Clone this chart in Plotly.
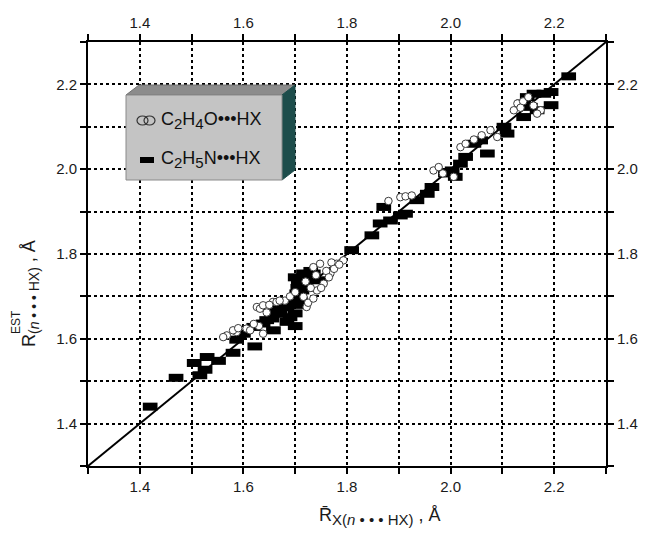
import plotly.graph_objects as go

# ---- data ----
c2h5n_x = [1.42, 1.47, 1.505, 1.53, 1.552, 1.516, 1.526, 1.58, 1.622, 1.587, 1.60, 1.62, 1.638, 1.645,
           1.658, 1.655, 1.664, 1.671, 1.664, 1.684, 1.684, 1.69, 1.697, 1.703, 1.706, 1.713, 1.722,
           1.716, 1.735, 1.748, 1.71, 1.705, 1.70, 1.72, 1.70, 1.70, 1.71, 1.72, 1.73,
           1.809, 1.848, 1.864, 1.871, 1.884, 1.903, 1.913, 1.935, 1.955, 1.964,
           1.99, 2.003, 2.009, 2.019, 2.029, 2.045, 2.058, 2.071, 2.103, 2.109,
           2.141, 2.148, 2.161, 2.18, 2.194, 2.194, 2.167, 2.141, 2.154, 2.228]
c2h5n_y = [1.44, 1.508, 1.543, 1.557, 1.548, 1.514, 1.527, 1.567, 1.582, 1.598, 1.612, 1.628, 1.636, 1.644,
           1.62, 1.648, 1.659, 1.66, 1.675, 1.675, 1.64, 1.651, 1.691, 1.707, 1.73, 1.714, 1.738,
           1.754, 1.754, 1.738, 1.69, 1.72, 1.745, 1.72, 1.63, 1.66, 1.68, 1.74, 1.76,
           1.809, 1.844, 1.872, 1.911, 1.879, 1.891, 1.895, 1.927, 1.942, 1.958,
           1.99, 1.997, 1.982, 2.013, 2.029, 2.06, 2.068, 2.037, 2.10, 2.084,
           2.155, 2.17, 2.178, 2.178, 2.182, 2.151, 2.139, 2.123, 2.147, 2.219]

c2h4o_x = [1.568, 1.587, 1.561, 1.58, 1.606, 1.613, 1.63, 1.638, 1.626, 1.632, 1.638, 1.657, 1.664, 1.68,
           1.722, 1.716, 1.742, 1.755, 1.735, 1.748, 1.768, 1.78, 1.793, 1.76, 1.74, 1.73, 1.77,
           1.65, 1.67, 1.69, 1.70, 1.725, 1.735, 1.75, 1.765, 1.775, 1.785, 1.72, 1.59, 1.62, 1.645,
           1.88, 1.903, 1.913, 1.925, 1.967, 1.977, 1.985, 2.006, 2.019, 2.029, 2.045, 2.077, 2.09, 2.06,
           2.122, 2.129, 2.174, 2.167, 2.14, 2.15, 2.135, 2.16]
c2h4o_y = [1.608, 1.616, 1.604, 1.62, 1.624, 1.62, 1.63, 1.612, 1.675, 1.671, 1.679, 1.687, 1.687, 1.69,
           1.675, 1.699, 1.714, 1.73, 1.769, 1.777, 1.754, 1.777, 1.785, 1.76, 1.75, 1.72, 1.78,
           1.68, 1.69, 1.70, 1.71, 1.685, 1.695, 1.72, 1.745, 1.765, 1.775, 1.735, 1.625, 1.635, 1.662,
           1.925, 1.934, 1.936, 1.938, 1.997, 2.005, 1.99, 1.982, 2.052, 2.06, 2.07, 2.092, 2.076, 2.08,
           2.139, 2.155, 2.139, 2.131, 2.16, 2.17, 2.145, 2.15]

diag = [1.3, 2.3]
axis_range = [1.3, 2.3]
major_ticks = [1.4, 1.6, 1.8, 2.0, 2.2]
major_text = ["1.4", "1.6", "1.8", "2.0", "2.2"]
minor_ticks = [1.3, 1.5, 1.7, 1.9, 2.1, 2.3]

DOTS = "\u2022\u2022\u2022"
SUB = "<sub><span style='font-size:15px'>{}</span></sub>"
legend_labels = ["C" + SUB.format(2) + "H" + SUB.format(4) + "O" + DOTS + "HX",
                 "C" + SUB.format(2) + "H" + SUB.format(5) + "N" + DOTS + "HX"]
x_title = "R\u0304<sub><span style='font-size:15px'>X(<i>n</i> \u2022 \u2022 \u2022 HX)</span></sub> , Å"
y_title = "R<sub><span style='font-size:14px'>(<i>n</i> \u2022 \u2022 \u2022 HX)</span></sub> , Å"
y_title_sup = "EST"

FONT = "Liberation Sans, Arial, sans-serif"

fig = go.Figure()

fig.add_trace(go.Scatter(x=diag, y=diag, mode="lines", line=dict(color="black", width=2),
                         showlegend=False, hoverinfo="skip"))

fig.add_trace(go.Scatter(
    x=c2h5n_x, y=c2h5n_y, mode="markers", name="C2H5N···HX", showlegend=False,
    marker=dict(symbol="line-ew", size=10.5, color="black",
                line=dict(color="black", width=8))))

fig.add_trace(go.Scatter(
    x=c2h4o_x, y=c2h4o_y, mode="markers", name="C2H4O···HX", showlegend=False,
    marker=dict(symbol="circle", size=7.5, color="white",
                line=dict(color="#3a3a3a", width=1))))

# invisible trace for top/right axes
fig.add_trace(go.Scatter(x=diag, y=diag, xaxis="x2", yaxis="y2", mode="markers",
                         marker=dict(opacity=0), showlegend=False, hoverinfo="skip"))

def axis_style(grid):
    return dict(range=axis_range, tickmode="array", tickvals=major_ticks, ticktext=major_text,
                ticks="outside", ticklen=6, tickwidth=1.5, tickcolor="black",
                showline=True, linecolor="black", linewidth=2,
                tickfont=dict(family=FONT, size=15, color="#1a1a1a"), zeroline=False,
                showgrid=grid, gridcolor="black", gridwidth=1.5, griddash="dot",
                minor=dict(tickmode="array", tickvals=minor_ticks, ticks="outside", ticklen=6,
                           tickwidth=1.5, tickcolor="black", showgrid=grid,
                           gridcolor="black", gridwidth=1.5, griddash="dot"))

# the page adds an 8px body margin, so the figure is 16px smaller than the window
fig.update_layout(
    width=632, height=520,
    margin=dict(l=80, r=34, t=34, b=62, autoexpand=False),
    paper_bgcolor="white", plot_bgcolor="white",
    xaxis=axis_style(True),
    yaxis=axis_style(True),
    xaxis2=dict(**axis_style(False), overlaying="x", side="top"),
    yaxis2=dict(**axis_style(False), overlaying="y", side="right"),
    font=dict(family=FONT, color="#1a1a1a"),
)

# helpers: reference pixel position -> paper coords
def px(v):
    return (v - 88) / 518.0

def py(v):
    return (466 - v) / 424.0

# axis titles
fig.add_annotation(xref="paper", yref="paper", x=px(380), y=py(516), xanchor="center", yanchor="middle",
                   showarrow=False, text=x_title, font=dict(family=FONT, size=18))
fig.add_annotation(xref="paper", yref="paper", x=px(30), y=py(294), xanchor="center", yanchor="middle",
                   showarrow=False, textangle=-90, text=y_title, font=dict(family=FONT, size=18))
fig.add_annotation(xref="paper", yref="paper", x=px(16), y=py(322), xanchor="center", yanchor="middle",
                   showarrow=False, textangle=-90, text=y_title_sup, font=dict(family=FONT, size=12))

# 3-D legend box
fig.add_shape(type="path", xref="paper", yref="paper", layer="above",
              path=f"M{px(126)},{py(95)} L{px(139)},{py(85)} L{px(295)},{py(85)} L{px(282)},{py(95)} Z",
              fillcolor="#8c8c8c", line=dict(color="#707070", width=1))
fig.add_shape(type="path", xref="paper", yref="paper", layer="above",
              path=f"M{px(282)},{py(95)} L{px(295)},{py(85)} L{px(295)},{py(170)} L{px(282)},{py(180)} Z",
              fillcolor="#1d4d4b", line=dict(color="#1d4d4b", width=1))
fig.add_shape(type="rect", xref="paper", yref="paper", layer="above",
              x0=px(126), y0=py(180), x1=px(282), y1=py(95),
              fillcolor="#c4c4c4", line=dict(color="#8a8a8a", width=1))
# legend symbols
fig.add_shape(type="circle", xref="paper", yref="paper", layer="above",
              x0=px(137), x1=px(148), y0=py(125), y1=py(116),
              fillcolor="rgba(0,0,0,0)", line=dict(color="#333333", width=1.2))
fig.add_shape(type="circle", xref="paper", yref="paper", layer="above",
              x0=px(144), x1=px(155), y0=py(125), y1=py(116),
              fillcolor="rgba(0,0,0,0)", line=dict(color="#333333", width=1.2))
fig.add_shape(type="rect", xref="paper", yref="paper", layer="above",
              x0=px(140), x1=px(154), y0=py(163), y1=py(157),
              fillcolor="black", line=dict(color="black", width=0))
fig.add_annotation(xref="paper", yref="paper", x=px(159), y=py(120), xanchor="left", yanchor="middle",
                   showarrow=False, text=legend_labels[0], font=dict(family=FONT, size=18, color="#111111"))
fig.add_annotation(xref="paper", yref="paper", x=px(159), y=py(159), xanchor="left", yanchor="middle",
                   showarrow=False, text=legend_labels[1], font=dict(family=FONT, size=18, color="#111111"))

fig.write_html("out.html")
